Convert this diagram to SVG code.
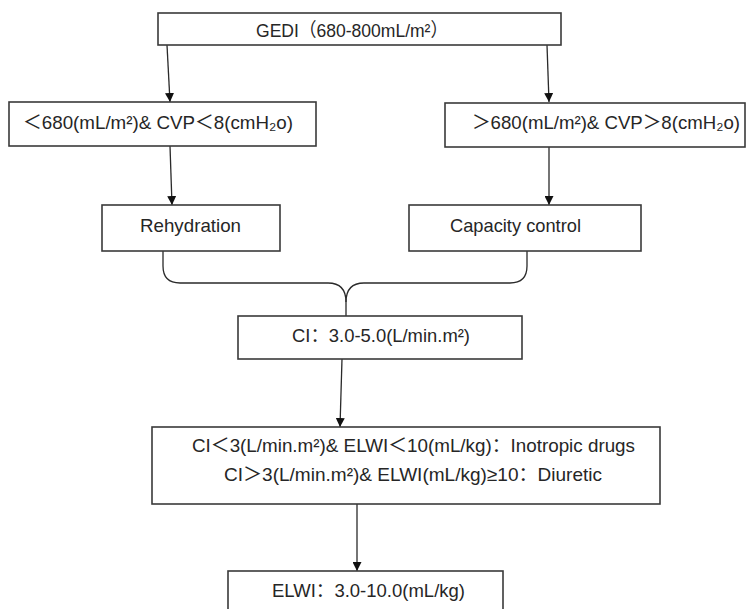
<svg xmlns="http://www.w3.org/2000/svg" width="749" height="609" viewBox="0 0 749 609">
<style>
.box{fill:#fff;stroke:#3a3a3a;stroke-width:1.6}
.t{font-family:"Liberation Sans","Noto Sans CJK SC",Arial,sans-serif;font-size:19px;fill:#262626}
.c{fill:none;stroke:#2a2a2a;stroke-width:1.3}
</style>
<defs>
<marker id="ah" viewBox="0 0 10 10" refX="10" refY="5" markerWidth="9" markerHeight="9" markerUnits="userSpaceOnUse" orient="auto">
<path d="M0,0 L10,5 L0,10 z" fill="#111"/>
</marker>
</defs>
<rect width="749" height="609" fill="#fff"/>
<g id="connectors">
<line class="c" x1="167" y1="45" x2="170" y2="102" marker-end="url(#ah)"/>
<line class="c" x1="547" y1="45" x2="549" y2="102" marker-end="url(#ah)"/>
<line class="c" x1="170" y1="146" x2="172" y2="205" marker-end="url(#ah)"/>
<line class="c" x1="549" y1="147" x2="549" y2="205" marker-end="url(#ah)"/>
<path class="c" d="M163,251 L163,266 Q163,283 180,283 L328,283 Q346,283 346,302 L346,316"/>
<path class="c" d="M527,251 L527,266 Q527,283 510,283 L364,283 Q346,283 346,302"/>
<line class="c" x1="342" y1="359" x2="340" y2="427" marker-end="url(#ah)"/>
<line class="c" x1="357" y1="504" x2="357" y2="571" marker-end="url(#ah)"/>
</g>
<g id="gedi">
<rect class="box" x="158" y="13" width="403" height="32"/>
<text class="t" x="256" y="37" textLength="192" lengthAdjust="spacingAndGlyphs">GEDI（680-800mL/m²）</text>
</g>
<g id="low">
<rect class="box" x="9" y="102" width="307" height="44"/>
<text class="t" x="23" y="129" textLength="270" lengthAdjust="spacingAndGlyphs">＜680(mL/m²)&amp; CVP＜8(cmH₂o)</text>
</g>
<g id="high">
<rect class="box" x="445" y="103" width="300" height="44"/>
<text class="t" x="472" y="129" textLength="268" lengthAdjust="spacingAndGlyphs">＞680(mL/m²)&amp; CVP＞8(cmH₂o)</text>
</g>
<g id="rehydration">
<rect class="box" x="102" y="205" width="178" height="46"/>
<text class="t" x="140" y="232" textLength="101" lengthAdjust="spacingAndGlyphs">Rehydration</text>
</g>
<g id="capacity">
<rect class="box" x="409" y="205" width="232" height="46"/>
<text class="t" x="450" y="232" textLength="131" lengthAdjust="spacingAndGlyphs">Capacity control</text>
</g>
<g id="ci">
<rect class="box" x="238" y="316" width="284" height="43"/>
<text class="t" x="292" y="342" textLength="178" lengthAdjust="spacingAndGlyphs">CI：3.0-5.0(L/min.m²)</text>
</g>
<g id="decision">
<rect class="box" x="152" y="427" width="508" height="77"/>
<text class="t" x="192" y="452" textLength="443" lengthAdjust="spacingAndGlyphs">CI＜3(L/min.m²)&amp; ELWI＜10(mL/kg)：Inotropic drugs</text>
<text class="t" x="224" y="481" textLength="378" lengthAdjust="spacingAndGlyphs">CI＞3(L/min.m²)&amp; ELWI(mL/kg)≥10：Diuretic</text>
</g>
<g id="elwi">
<rect class="box" x="228" y="571" width="275" height="50"/>
<text class="t" x="272" y="597" textLength="193" lengthAdjust="spacingAndGlyphs">ELWI：3.0-10.0(mL/kg)</text>
</g>
</svg>
